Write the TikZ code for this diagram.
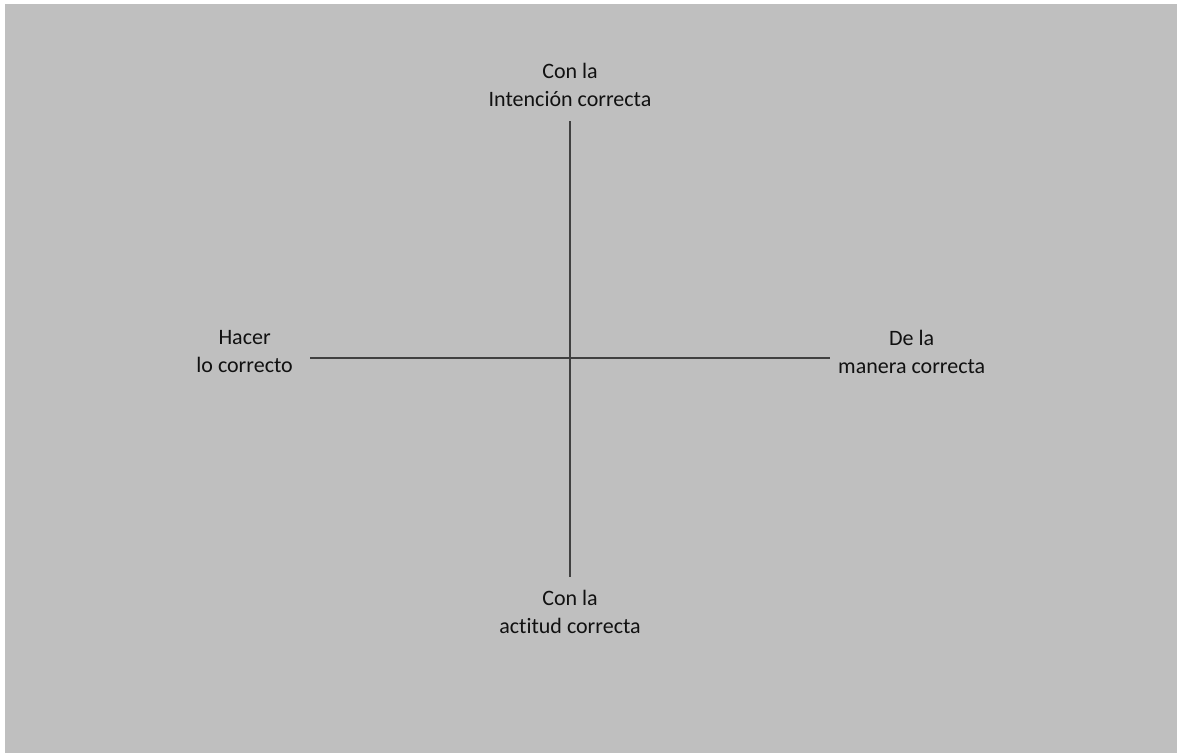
\documentclass[tikz,border=0pt]{standalone}
\usepackage{fontspec}
\setmainfont[Ligatures={NoCommon}]{Carlito}
\usetikzlibrary{positioning}
\definecolor{PanelGray}{HTML}{BFBFBF}
\definecolor{AxisGray}{HTML}{404040}
\definecolor{LabelInk}{HTML}{111111}
\tikzset{
  axislabel/.style={align=center,inner sep=0pt,text=LabelInk,
              font=\fontsize{22}{28}\selectfont},
  axisline/.style={draw=AxisGray,line width=1.3pt}
}

\begin{document}
\begin{tikzpicture}[x=1pt,y=-1pt]
  \fill[white] (0,0) rectangle (1177,753);
  \fill[PanelGray] (5,4) rectangle (1177,753);

  \coordinate (top) at (570,121);
  \coordinate (bot) at (570,577);
  \coordinate (lft) at (310,358);
  \coordinate (rgt) at (830,358);

  \node[axislabel,above=14pt of top] (intencion) {Con la\\Intención correcta};
  \node[axislabel,below=13pt of bot] (actitud) {Con la\\actitud correcta};
  \node[axislabel,left=17pt of lft,yshift=6pt] (hacer) {Hacer\\lo correcto};
  \node[axislabel,right=8pt of rgt,yshift=6pt] (manera) {De la\\manera correcta};

  \draw[axisline] (top) -- (bot);
  \draw[axisline] (lft) -- (rgt);
\end{tikzpicture}
\end{document}
